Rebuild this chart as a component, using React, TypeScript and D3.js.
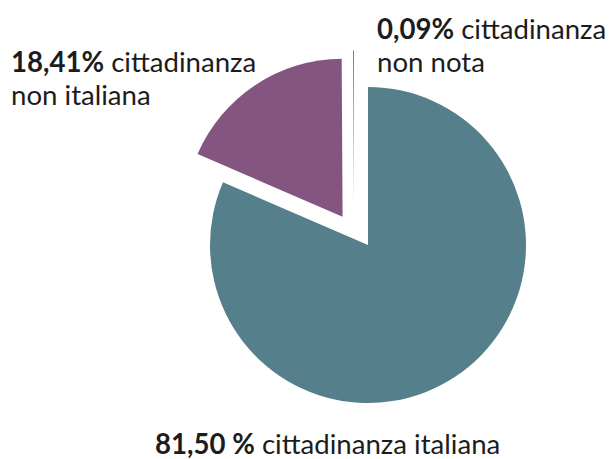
import React from "react";
import * as d3 from "d3";

const categories = ["cittadinanza italiana", "cittadinanza non italiana", "cittadinanza non nota"];
const values = [81.5, 18.41, 0.09];
const pctLabels = ["81,50 %", "18,41%", "0,09%"];
const labelLine1 = ["cittadinanza italiana", "cittadinanza", "cittadinanza"];
const labelLine2 = ["", "non italiana", "non nota"];
const colors = ["#557f8b", "#845581", "#845581"];

// explosion: distance (px) and direction (deg, clockwise from 12 o'clock)
const explodeDist = [0, 38, 39];
const explodeDir = [0, 318, 339];

// label anchor positions (x, baseline y of first line)
const labelPos: [number, number][] = [
  [155, 454],
  [11, 72],
  [377, 39],
];

const W = 609;
const H = 459;
const CX = 368;
const CY = 245;
const R = 158;
const FONT = "Lato, 'Open Sans', sans-serif";
const FS = 27.6;
const LH = 33;

export default function App() {
  const pie = d3
    .pie<number>()
    .sort(null)
    .startAngle(0)
    .endAngle(2 * Math.PI)
    .value((d) => d);
  const arcs = pie(values);
  const arc = d3.arc<d3.PieArcDatum<number>>().innerRadius(0).outerRadius(R);

  return (
    <svg
      width={W}
      height={H}
      style={{ position: "absolute", left: 0, top: 0, background: "#fff" }}
      fontFamily={FONT}
    >
      <rect width={W} height={H} fill="#fff" />
      <g transform={`translate(${CX},${CY})`}>
        {arcs.map((a, i) => {
          const ang = (explodeDir[i] * Math.PI) / 180;
          const dx = explodeDist[i] * Math.sin(ang);
          const dy = -explodeDist[i] * Math.cos(ang);
          return (
            <path
              key={categories[i]}
              d={arc(a) || ""}
              fill={colors[i]}
              transform={`translate(${dx},${dy})`}
            />
          );
        })}
      </g>
      {categories.map((c, i) => (
        <text key={c} x={labelPos[i][0]} y={labelPos[i][1]} fontSize={FS} fill="#1c1c1c">
          <tspan fontWeight="bold">{pctLabels[i]}</tspan>
          <tspan> {labelLine1[i]}</tspan>
          {labelLine2[i] ? (
            <tspan x={labelPos[i][0]} dy={LH}>
              {labelLine2[i]}
            </tspan>
          ) : null}
        </text>
      ))}
    </svg>
  );
}
